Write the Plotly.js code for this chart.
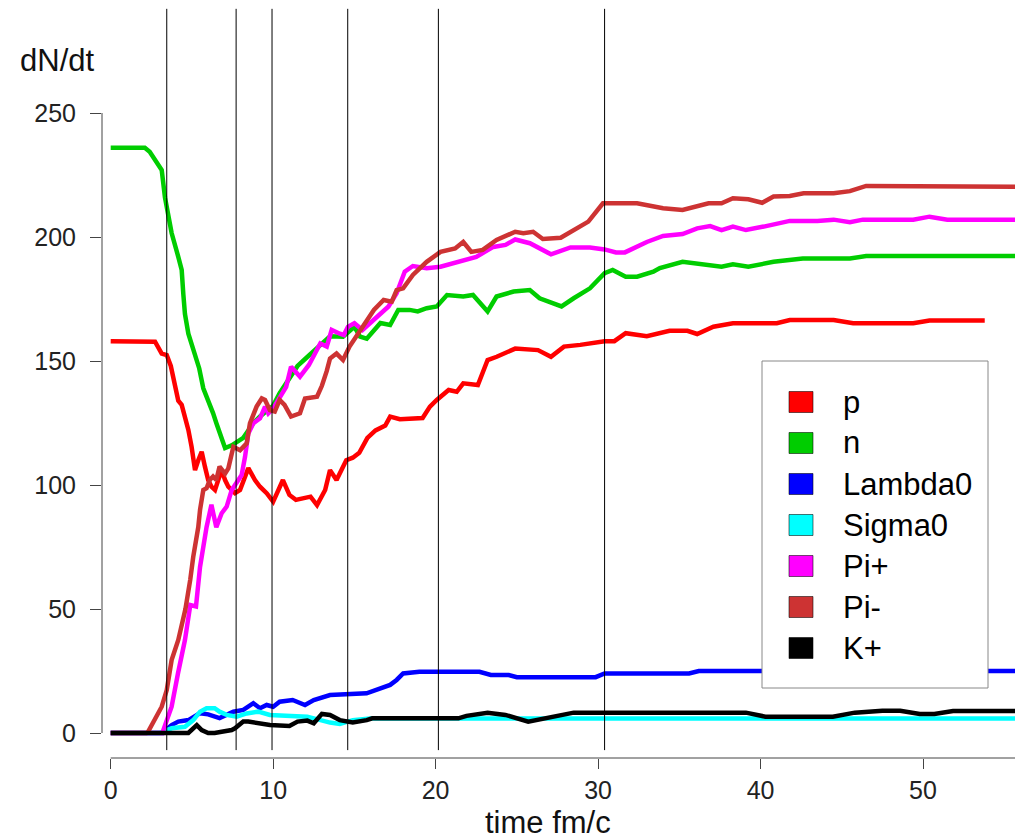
<!DOCTYPE html>
<html><head><meta charset="utf-8">
<script src="https://cdn.plot.ly/plotly-3.0.1.min.js"></script>
<style>html,body{margin:0;padding:0;background:#fff}#chart{width:1015px;height:839px}</style>
</head><body><div id="chart"></div>
<script>
// ---- data: [time fm/c, dN/dt] ----
const seriesNames = ['p','n','Lambda0','Sigma0','Pi+','Pi-','K+'];
const seriesColors = ['#ff0000','#00cd00','#0000ff','#00ffff','#ff00ff','#cd3333','#000000'];

const pData = [[0,158],[2.5,158],[2.73,157.8],[3.14,153],[3.45,152.4],[3.7,148],[3.9,142],[4.16,134],[4.37,132.3],[4.57,127.6],[4.78,122.2],[4.98,115.4],[5.19,106],[5.39,110],[5.6,113.4],[5.8,107.4],[6.0,102],[6.2,99.3],[6.42,98],[6.62,102],[6.83,106],[7.04,102],[7.24,99.3],[7.65,96.7],[7.96,98],[8.47,106.8],[8.88,102],[9.19,99.3],[9.6,96.7],[10.0,93.3],[10.3,98],[10.6,102],[11.0,96],[11.4,94],[12.3,95.3],[12.7,91.9],[13.2,98],[13.5,106],[13.9,102],[14.5,110],[14.9,111],[15.3,113],[15.8,119],[16.3,122],[16.9,124],[17.2,127.6],[17.8,126.5],[19.2,127],[19.65,131.6],[20.07,134.3],[20.8,138.3],[21.3,137.6],[21.7,141],[22.6,140.3],[23.2,150.4],[23.76,151.7],[24.9,155],[26.3,154.4],[27.1,151.7],[27.9,155.8],[28.9,156.5],[29.7,157.4],[30.4,158],[31.0,158],[31.7,161.2],[33.0,160],[34.4,162.2],[35.5,162.2],[36.1,160.9],[37.1,163.8],[38.3,165.2],[41.0,165.2],[41.8,166.5],[44.5,166.5],[45.7,165.2],[49.4,165.2],[50.4,166.3],[53.8,166.3]];

const nData = [[0,236],[2.1,236],[2.4,234.4],[2.73,231],[3.14,227],[3.34,216],[3.55,208],[3.75,201.6],[4.16,192],[4.37,186.7],[4.47,177],[4.57,169],[4.78,161],[5.19,152],[5.45,147],[5.7,139],[6.0,134.5],[6.3,129],[6.5,125],[6.8,119.5],[7.04,114.9],[7.45,116],[7.86,117.5],[8.16,119],[8.47,122],[8.78,125],[9.19,127.6],[9.6,130],[10.0,132],[10.4,137],[10.8,141],[11.0,143],[11.5,148],[12.0,151],[12.5,154],[13.0,157],[13.5,160],[14.3,159.8],[15.0,163.8],[15.35,159.8],[15.76,159],[16.6,165.3],[17.2,164.5],[17.7,170.6],[18.4,170.6],[18.9,170],[19.45,171.3],[20.07,172],[20.7,176.6],[21.7,176],[22.3,176.6],[23.2,170],[23.75,176],[24.8,178],[25.8,178.6],[26.4,175.3],[27.75,172],[28.5,175.3],[29.5,179.3],[30.4,185.4],[30.9,186.7],[31.7,184],[32.4,184],[33.4,186],[33.8,187.5],[35.2,190],[36.2,189],[37.6,188],[38.3,189],[39.25,188],[40.8,190],[42.6,191.3],[45.5,191.3],[46.5,192.3],[56,192.3]];

const lambda0Data = [[0,0],[3.2,0],[3.24,0.5],[3.75,3.2],[4.16,4.6],[4.78,5.2],[5.5,8],[6.0,7.5],[6.7,6],[7.55,8.6],[8.16,9.3],[8.78,12],[9.19,10],[9.6,11.3],[10.0,10.6],[10.4,12.6],[11.2,13.3],[11.96,11.3],[12.5,13.3],[13.5,15.3],[15.75,16],[16.4,17.6],[17.2,19.4],[17.6,21.4],[18.0,24],[19.0,24.7],[22.7,24.7],[23.4,23.4],[24.5,23.4],[25.0,22.5],[29.85,22.5],[30.4,24],[35.6,24],[36.2,25],[56,25]];

const sigma0Data = [[0,0],[3.0,0],[3.75,1.9],[4.57,2.5],[5.08,5.2],[5.5,8.6],[5.9,10],[6.4,10],[6.7,8.6],[7.14,7.3],[7.75,6.6],[8.37,7.9],[9.08,8.6],[9.8,7.3],[11.1,6.9],[12.1,6.6],[13.5,4.2],[14.1,3.6],[14.9,5.2],[15.96,5.8],[56,5.8]];

const piPlusData = [[0,0],[3.2,0],[3.24,1.2],[3.75,10.6],[4.14,24],[4.57,37.5],[4.9,51.6],[5.25,51],[5.5,67],[5.9,83],[6.2,92],[6.5,83],[6.83,88.6],[7.14,91.3],[7.45,98],[7.75,100.7],[8.06,104],[8.27,111.4],[8.47,120.8],[8.78,124.9],[9.19,126.9],[9.5,131.6],[9.7,128.9],[10.0,130.9],[10.4,135.6],[10.8,139.6],[11.1,147.7],[11.65,143.7],[12.2,148.4],[12.9,157.1],[13.3,155.8],[13.6,162.5],[14.1,161],[14.35,160.5],[14.6,163.8],[15.0,165.2],[15.5,162.5],[16.4,167.9],[17.1,172],[17.6,177.3],[18.1,186],[18.6,188.3],[19.45,187.4],[20.3,188],[21.3,190],[22.5,192],[23.55,196],[24.3,196.8],[24.9,199],[25.8,197.5],[27.1,193],[28.3,195.8],[29.5,195.8],[30.4,195],[31.1,193.8],[31.65,193.8],[33.0,198],[34.0,200.4],[35.2,201.2],[36.1,203.5],[36.9,204.4],[37.6,202.8],[38.3,204.2],[39.1,202.8],[40.2,204.2],[41.8,206.5],[43.5,206.5],[44.5,207],[45.5,206],[46.3,207],[49.4,207],[50.4,208.2],[51.5,207],[56,207]];

const piMinusData = [[0,0],[2.2,0],[2.3,0.5],[2.83,6.6],[3.14,10.6],[3.45,17.3],[3.75,29.4],[4.16,37.5],[4.3,42],[4.6,50],[4.9,62],[5.08,71],[5.39,83],[5.5,90],[5.7,98],[5.9,98.7],[6.1,102],[6.3,103.4],[6.5,102],[6.7,107.4],[7.04,104.6],[7.24,106.7],[7.55,115.4],[7.96,114],[8.37,116.8],[8.57,124.9],[8.98,131.6],[9.3,134.9],[9.5,134.3],[9.8,130.2],[10.1,129.6],[10.4,134.3],[10.7,132.3],[11.1,127.6],[11.65,128.9],[11.96,134.9],[12.7,135.6],[13.0,140],[13.3,146],[13.5,151],[13.9,153],[14.3,150.4],[14.7,155.8],[15.5,163.8],[16.2,170.6],[16.8,174.6],[17.3,173.9],[17.6,178.6],[18.0,179.3],[18.6,184.7],[19.45,190],[20.3,194],[21.2,195.4],[21.7,198],[22.2,194],[22.9,194.8],[23.75,198.8],[24.9,202.1],[25.4,201.5],[26.0,202.1],[26.6,199.2],[27.7,199.7],[28.3,202.1],[29.4,206.2],[30.3,213.6],[32.4,213.6],[34.0,211.6],[35.2,210.9],[36.8,213.6],[37.6,213.6],[38.3,215.6],[39.25,215.2],[40.1,213.8],[40.8,216.3],[41.8,216.5],[42.65,217.6],[44.5,217.6],[45.5,218.5],[46.5,220.6],[56,220.3]];

const kPlusData = [[0,0],[4.78,0],[5.3,3.2],[5.6,1.2],[6.0,0],[6.4,0],[6.83,0.5],[7.45,1.2],[7.65,1.9],[8.16,4.6],[8.47,4.6],[8.98,3.9],[9.8,3.2],[11.0,2.8],[11.5,4.6],[12.1,5],[12.5,3.9],[13.0,7.7],[13.5,7.3],[14.1,5.2],[14.9,4.2],[15.76,5.2],[16.1,5.9],[21.4,5.9],[21.9,6.9],[23.2,8.2],[24.3,7.3],[25.7,4.6],[26.6,5.9],[28.5,8.2],[39.1,8.2],[40.3,6.6],[44.45,6.6],[45.8,8.2],[47.5,9],[48.6,9],[49.8,7.7],[50.7,7.7],[51.85,8.9],[56,8.9]];

const markerTimes = [3.45, 7.72, 9.93, 14.59, 20.17, 30.4];
const xTicks = [0,10,20,30,40,50];
const yTicks = [0,50,100,150,200,250];

// ---- layout geometry ----
const W = 1015, H = 839, L = 102, R = 0, T = 5, B = 81;
const plotW = W - L - R, plotH = H - T - B;
const fx = px => (px - L) / plotW;
const fy = py => (H - B - py) / plotH;
const FONT = 'Liberation Sans, Arial, Helvetica, sans-serif';

const allSeries = [pData, nData, lambda0Data, sigma0Data, piPlusData, piMinusData, kPlusData];
const traces = allSeries.map((s, i) => ({
  type: 'scatter', mode: 'lines',
  x: s.map(d => d[0]), y: s.map(d => d[1]),
  name: seriesNames[i],
  line: {color: seriesColors[i], width: 4.5},
  showlegend: false, hoverinfo: 'skip'
}));

const shapes = [];
markerTimes.forEach(t => shapes.push({type:'line', xref:'x', yref:'y', x0:t, x1:t, y0:-6.9, y1:292, line:{color:'#000', width:1}}));
// axis lines (R style, offset)
shapes.push({type:'line', xref:'x', yref:'paper', x0:0, x1:56, y0:0, y1:0, line:{color:'#444', width:1}});
shapes.push({type:'line', xref:'paper', yref:'y', x0:0, x1:0, y0:0, y1:250, line:{color:'#444', width:1}});

// legend box
shapes.push({type:'rect', xref:'paper', yref:'paper', x0:fx(762), x1:fx(988), y0:fy(688), y1:fy(361), fillcolor:'#fff', line:{color:'#888', width:1}});
const annotations = [];
seriesNames.forEach((nm, i) => {
  const cy = 402 + 41 * i;
  shapes.push({type:'rect', xref:'paper', yref:'paper', x0:fx(789), x1:fx(813), y0:fy(cy + 10.5), y1:fy(cy - 10.5), fillcolor:seriesColors[i], line:{color:'rgba(0,0,0,0.55)', width:1}});
  annotations.push({text:nm, xref:'paper', yref:'paper', x:fx(841), y:fy(cy), xanchor:'left', yanchor:'middle', showarrow:false, font:{family:FONT, size:31, color:'#000'}});
});
annotations.push({text:'dN/dt', xref:'paper', yref:'paper', x:fx(18), y:fy(60), xanchor:'left', yanchor:'middle', showarrow:false, font:{family:FONT, size:31, color:'#111'}});
annotations.push({text:'time fm/c', xref:'paper', yref:'paper', x:fx(547.5), y:fy(823), xanchor:'center', yanchor:'middle', showarrow:false, font:{family:FONT, size:31, color:'#111'}});

const layout = {
  width: W, height: H,
  margin: {l: L, r: R, t: T, b: B, pad: 0},
  paper_bgcolor: '#fff', plot_bgcolor: '#fff',
  font: {family: FONT},
  showlegend: false,
  xaxis: {range: [-0.5355, 55.663], tickvals: xTicks, ticktext: xTicks.map(String), ticks: 'outside', ticklen: 10, tickwidth: 1, tickcolor: '#444',
          showline: false, zeroline: false, showgrid: false, tickfont: {family: FONT, size: 25, color: '#222'}, fixedrange: true},
  yaxis: {range: [-10.081, 293.548], tickvals: yTicks, ticktext: yTicks.map(String), ticks: 'outside', ticklen: 11, tickwidth: 1, tickcolor: '#444',
          showline: false, zeroline: false, showgrid: false, tickfont: {family: FONT, size: 25, color: '#222'}, ticklabelstandoff: 9, fixedrange: true},
  shapes: shapes, annotations: annotations
};

Plotly.newPlot('chart', traces, layout, {staticPlot: true, displayModeBar: false});
</script></body></html>
